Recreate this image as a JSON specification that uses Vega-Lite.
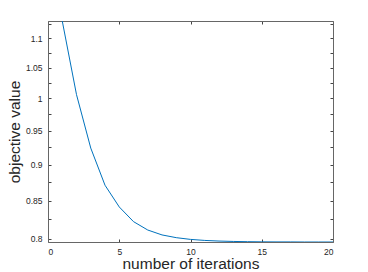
{
  "$schema": "https://vega.github.io/schema/vega-lite/v6.json",
  "autosize": "none",
  "width": 285,
  "height": 221,
  "padding": {"left": 48, "top": 21, "right": 35, "bottom": 30},
  "background": "white",
  "config": {
    "view": {"stroke": null},
    "font": "Liberation Sans",
    "axis": {
      "labelFont": "Liberation Sans",
      "titleFont": "Liberation Sans",
      "labelFontSize": 8.5,
      "labelColor": "#262626",
      "titleColor": "#262626",
      "titleFontWeight": "normal",
      "titleFontSize": 15.5,
      "domainColor": "#666666",
      "tickColor": "#444444",
      "grid": false,
      "tickSize": -3
    }
  },
  "data": {"values": [
    {"iter": 1, "obj": 1.131},
    {"iter": 2, "obj": 1.006},
    {"iter": 3, "obj": 0.924},
    {"iter": 4, "obj": 0.871},
    {"iter": 5, "obj": 0.8414},
    {"iter": 6, "obj": 0.822},
    {"iter": 7, "obj": 0.8111},
    {"iter": 8, "obj": 0.8048},
    {"iter": 9, "obj": 0.8013},
    {"iter": 10, "obj": 0.7991},
    {"iter": 11, "obj": 0.7978},
    {"iter": 12, "obj": 0.797},
    {"iter": 13, "obj": 0.7965},
    {"iter": 14, "obj": 0.7962},
    {"iter": 15, "obj": 0.796},
    {"iter": 16, "obj": 0.7959},
    {"iter": 17, "obj": 0.7959},
    {"iter": 18, "obj": 0.7958},
    {"iter": 19, "obj": 0.7958},
    {"iter": 20, "obj": 0.7958}
  ]},
  "resolve": {"scale": {"x": "independent", "y": "independent"}},
  "layer": [
    {
      "mark": {"type": "line", "color": "#0072BD", "strokeWidth": 1, "clip": true},
      "encoding": {
        "x": {
          "field": "iter", "type": "quantitative",
          "scale": {"domain": [0, 20], "nice": false, "zero": false},
          "axis": {"orient": "bottom", "title": "number of iterations", "values": [0, 5, 10, 15, 20], "labelPadding": 8, "titlePadding": 1}
        },
        "y": {
          "field": "obj", "type": "quantitative",
          "scale": {"type": "log", "domain": [0.7958, 1.131], "nice": false, "zero": false},
          "axis": {
            "orient": "left", "title": "objective value",
            "values": [0.8, 0.825, 0.85, 0.875, 0.9, 0.925, 0.95, 0.975, 1, 1.025, 1.05, 1.075, 1.1, 1.125],
            "labelExpr": "round(datum.value*1000) % 50 == 0 ? format(datum.value, '~g') : ''",
            "labelPadding": 9, "titlePadding": 3
          }
        }
      }
    },
    {
      "mark": {"type": "line", "color": "#0072BD", "strokeWidth": 1, "opacity": 0},
      "encoding": {
        "x": {
          "field": "iter", "type": "quantitative",
          "scale": {"domain": [0, 20], "nice": false, "zero": false},
          "axis": {"orient": "top", "title": null, "values": [0, 5, 10, 15, 20], "labels": false}
        },
        "y": {
          "field": "obj", "type": "quantitative",
          "scale": {"type": "log", "domain": [0.7958, 1.131], "nice": false, "zero": false},
          "axis": {
            "orient": "right", "title": null, "labels": false,
            "values": [0.8, 0.825, 0.85, 0.875, 0.9, 0.925, 0.95, 0.975, 1, 1.025, 1.05, 1.075, 1.1, 1.125]
          }
        }
      }
    }
  ]
}
